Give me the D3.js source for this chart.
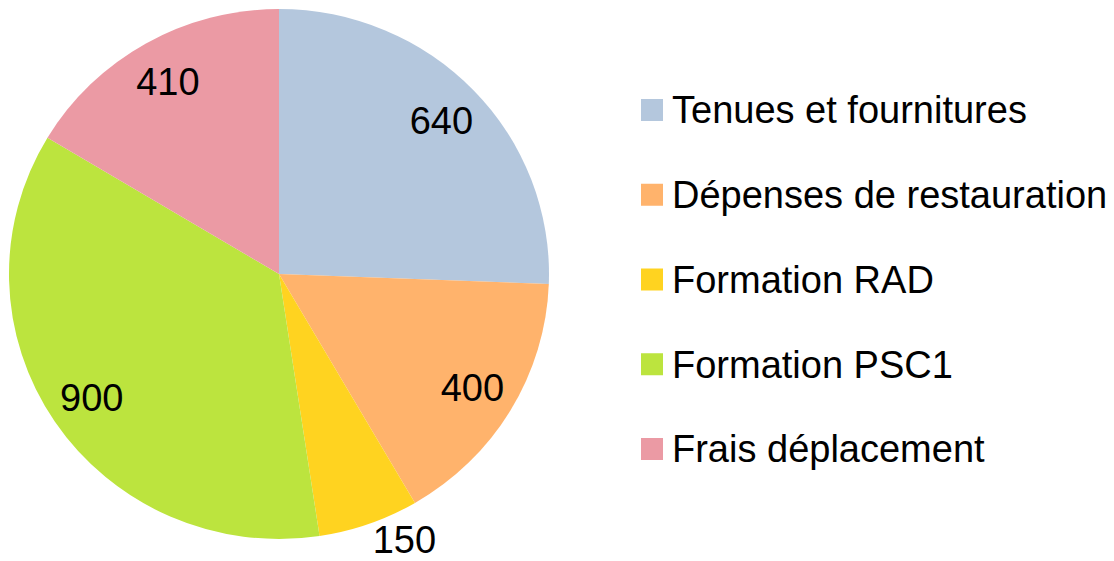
<!DOCTYPE html>
<html>
<head>
<meta charset="utf-8">
<script src="https://cdn.jsdelivr.net/npm/d3@7"></script>
<style>
  body { margin: 0; background: #fff; }
  text { font-family: "Liberation Sans", Arial, sans-serif; fill: #000; }
</style>
</head>
<body>
<div id="chart"></div>
<script>
// chart data
const categories = ['Tenues et fournitures', 'Dépenses de restauration', 'Formation RAD', 'Formation PSC1', 'Frais déplacement'];
const values = [640, 400, 150, 900, 410];
const colors = ['#b4c7dd', '#ffb36c', '#ffd320', '#bce43e', '#eb9aa4'];

const width = 1114;
const height = 561;

// pie is a little squashed vertically in the reference
const cx = 279, cy = 274;
const rx = 270, ry = 265;

const svg = d3.select('#chart').append('svg')
    .attr('width', width)
    .attr('height', height);

const data = categories.map((c, i) => ({ name: c, value: values[i], color: colors[i] }));

const pie = d3.pie().sort(null).value(d => d.value);
const arcs = pie(data);

const arc = d3.arc().innerRadius(0).outerRadius(rx);

const pieG = svg.append('g')
    .attr('transform', `translate(${cx},${cy}) scale(1,${ry / rx})`);

pieG.selectAll('path')
    .data(arcs)
    .enter().append('path')
    .attr('d', arc)
    .attr('fill', d => d.data.color);

// labels: inside for big slices, outside end for the small one
const fontSize = 38;
svg.append('g')
    .selectAll('text')
    .data(arcs)
    .enter().append('text')
    .attr('font-size', fontSize)
    .attr('text-anchor', 'middle')
    .attr('dy', '0.35em')
    .each(function(d) {
        const a = (d.startAngle + d.endAngle) / 2;
        const s = Math.sin(a), c = -Math.cos(a);
        let x, y;
        if (d.value < 200) {
            // outside: put label box next to the rim
            const ex = cx + rx * s, ey = cy + ry * c;
            x = ex + Math.sign(s) * (31.5 + 4);
            y = ey + Math.sign(c) * (13.5 + 2);
        } else {
            const f = 0.835;
            x = cx + rx * f * s;
            y = cy + ry * f * c;
        }
        d3.select(this).attr('x', x).attr('y', y).text(d.value);
    });

// legend
const legendX = 641;
const legendY = d3.scalePoint()
    .domain(categories)
    .range([110, 449]);

const legend = svg.append('g')
    .selectAll('g')
    .data(data)
    .enter().append('g')
    .attr('transform', d => `translate(${legendX},${legendY(d.name)})`);

legend.append('rect')
    .attr('x', 0)
    .attr('y', -11)
    .attr('width', 22)
    .attr('height', 22)
    .attr('fill', d => d.color);

legend.append('text')
    .attr('x', 31)
    .attr('dy', '0.35em')
    .attr('font-size', fontSize)
    .text(d => d.name);
</script>
</body>
</html>
